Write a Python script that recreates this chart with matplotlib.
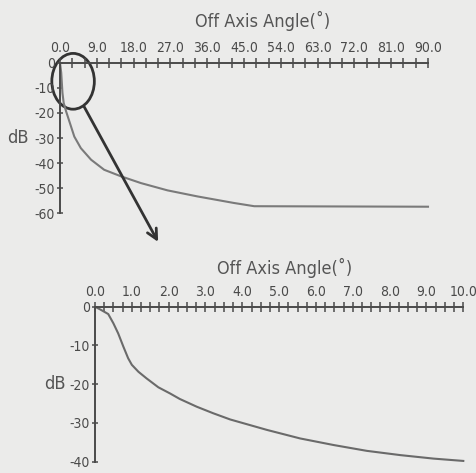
import matplotlib
matplotlib.use("Agg")
import matplotlib.pyplot as plt
from matplotlib.patches import Ellipse
from matplotlib.ticker import MultipleLocator

# ---- data ----
top_angle = [0, 0.3, 0.6, 0.9, 1.5, 2.3, 3.5, 5.1, 7.6, 10.8, 14.9, 19.8, 26.3, 33.6, 42.5, 47.5, 90]
top_db = [0, -4, -12, -16, -19.4, -23.4, -29.4, -34, -38.6, -42.6, -45.2, -47.9, -50.8, -53.2, -55.8, -57.1, -57.3]

bot_angle = [0, 0.14, 0.36, 0.5, 0.63, 0.77, 0.9, 1.0, 1.18, 1.4, 1.72, 2.04, 2.3, 2.76, 3.21, 3.67,
             4.67, 5.57, 6.48, 7.38, 8.29, 9.19, 10.0]
bot_db = [0, -0.7, -1.9, -4.3, -6.9, -10.3, -13.3, -15.0, -16.8, -18.5, -20.8, -22.4, -23.8, -25.8, -27.5, -29.1,
          -31.8, -34.0, -35.7, -37.2, -38.3, -39.2, -39.8]

top_xticks = [0, 9, 18, 27, 36, 45, 54, 63, 72, 81, 90]
top_yticks = [0, -10, -20, -30, -40, -50, -60]
bot_xticks = [0, 1, 2, 3, 4, 5, 6, 7, 8, 9, 10]
bot_yticks = [0, -10, -20, -30, -40]

title = "Off Axis Angle(\u02da)"
ylab = "dB"

BG = "#ebebea"
INK = "#4a4a4a"
CURVE = "#7a7a7a"

plt.rcParams["font.family"] = ["DejaVu Sans"]
plt.rcParams["font.stretch"] = "condensed"

fig = plt.figure(figsize=(4.76, 4.73), dpi=100)
fig.patch.set_facecolor(BG)

W, H = 476, 473


def make_axes(l, r, t, b):
    return fig.add_axes([l / W, 1 - b / H, (r - l) / W, (b - t) / H])


def style(ax, xmax, ymin, xticks, yticks, minor_step):
    ax.set_facecolor("none")
    ax.set_xlim(0, xmax)
    ax.set_ylim(ymin, 0)
    for s in ("right", "bottom"):
        ax.spines[s].set_visible(False)
    for s in ("left", "top"):
        ax.spines[s].set_color(INK)
        ax.spines[s].set_linewidth(1.4)
    ax.xaxis.set_ticks_position("top")
    ax.xaxis.set_label_position("top")
    ax.set_xticks(xticks)
    ax.set_xticklabels([f"{v:.1f}" for v in xticks])
    ax.xaxis.set_minor_locator(MultipleLocator(minor_step))
    ax.set_yticks(yticks)
    ax.set_yticklabels([f"{v:d}" for v in yticks])
    ax.tick_params(axis="x", which="both", direction="inout", length=7, width=1.1,
                   color=INK, labelsize=10, labelcolor=INK, pad=2)
    ax.tick_params(axis="y", which="both", direction="inout", length=5, width=1.1,
                   color=INK, labelsize=10, labelcolor=INK, pad=1)


# top plot
ax1 = make_axes(60, 428, 62.7, 213.5)
style(ax1, 90, -60, top_xticks, top_yticks, 3)
ax1.plot(top_angle, top_db, color=CURVE, lw=1.5, clip_on=False)
ax1.text(0.55, 1.0 + 42 / 151, title, transform=ax1.transAxes, ha="center", va="center",
         fontsize=13, color="#555555")
ax1.text(-0.115, 0.5, ylab, transform=ax1.transAxes, ha="center", va="center",
         fontsize=13, color="#555555")

# bottom plot
ax2 = make_axes(95, 463.3, 306.7, 461.7)
style(ax2, 10, -40, bot_xticks, bot_yticks, 0.25)
ax2.plot(bot_angle, bot_db, color="#6a6a6a", lw=1.5, clip_on=False)
ax2.text(0.514, 1.0 + 38.7 / 155, title, transform=ax2.transAxes, ha="center", va="center",
         fontsize=13, color="#555555")
ax2.text(-0.11, 0.5, ylab, transform=ax2.transAxes, ha="center", va="center",
         fontsize=13, color="#555555")

# zoom circle and arrow (decoration, top-axes data coordinates)
ell = Ellipse((3.2, -7.4), 10.4, 22.2, fill=False, edgecolor="#333333", lw=2.0, clip_on=False)
ax1.add_patch(ell)
ax1.annotate("", xy=(24.0, -71.3), xytext=(5.9, -17.5), xycoords="data",
             arrowprops=dict(arrowstyle="->", color="#333333", lw=2.0,
                             mutation_scale=18, shrinkA=0, shrinkB=0),
             annotation_clip=False)

fig.savefig("out.png", dpi=100, facecolor=BG)
